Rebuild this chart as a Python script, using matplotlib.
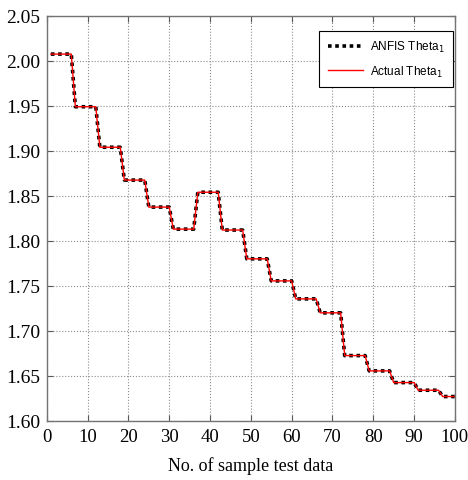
import matplotlib
matplotlib.use("Agg")
import matplotlib.pyplot as plt
import numpy as np

# Sample index
samples = list(range(1, 101))

# Step levels (each level held for a run of samples)
levels = [2.0075, 1.949, 1.904, 1.8675, 1.8375, 1.813, 1.854, 1.812, 1.780,
          1.7555, 1.7355, 1.720, 1.6725, 1.6555, 1.6425, 1.634, 1.627]
run_lengths = [6, 6, 6, 6, 6, 6, 6, 6, 6, 6, 6, 6, 6, 6, 6, 6, 4]

anfis_theta1 = np.repeat(levels, run_lengths)
actual_theta1 = np.repeat(levels, run_lengths)

xticks = [0, 10, 20, 30, 40, 50, 60, 70, 80, 90, 100]
yticks = [1.60, 1.65, 1.70, 1.75, 1.80, 1.85, 1.90, 1.95, 2.00, 2.05]

fig = plt.figure(figsize=(4.68, 4.81), dpi=100)
ax = fig.add_axes([0.100, 0.123, 0.872, 0.842])

ax.plot(samples, anfis_theta1, color='black', linestyle=(0, (1, 1)), linewidth=2.6,
        label='ANFIS Theta$_{1}$')
ax.plot(samples, actual_theta1, color='red', linestyle='-', linewidth=1.0,
        label='Actual Theta$_{1}$')

ax.set_xlim(0, 100)
ax.set_ylim(1.60, 2.05)
ax.set_xticks(xticks)
ax.set_yticks(yticks)
ax.set_yticklabels([f"{v:.2f}" for v in yticks])
ax.grid(True, linestyle=':', color='0.55', linewidth=0.8)

serif = 'Liberation Serif'
for lab in ax.get_yticklabels():
    lab.set_fontfamily(serif)
    lab.set_fontsize(14)
for lab in ax.get_xticklabels():
    lab.set_fontfamily(serif)
    lab.set_fontsize(13.5)
ax.tick_params(direction='in', top=True, right=True, length=4, width=0.8,
               color='0.35', pad=5)
for sp in ax.spines.values():
    sp.set_color('0.45')
    sp.set_linewidth(1.0)

ax.set_xlabel('No. of sample test data', fontfamily=serif, fontsize=13, labelpad=8)

leg = ax.legend(loc='upper right', bbox_to_anchor=(0.995, 0.963), borderaxespad=0,
                prop={'family': 'Liberation Sans', 'size': 8.5},
                fancybox=False, edgecolor='black', framealpha=1,
                handlelength=3.0, handletextpad=0.6, borderpad=0.7, labelspacing=0.8)
leg.get_frame().set_linewidth(0.8)

fig.savefig('out.png', dpi=100)
